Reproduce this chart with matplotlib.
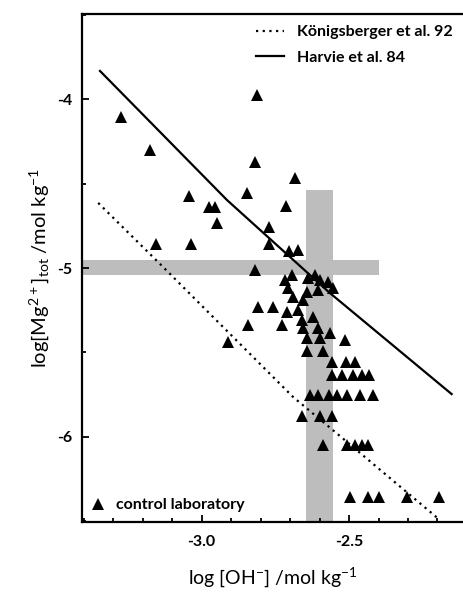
import matplotlib
matplotlib.use('Agg')
import matplotlib.pyplot as plt
from matplotlib.ticker import MultipleLocator, FormatStrFormatter
from matplotlib.lines import Line2D
from matplotlib.patches import Rectangle

##########################################################################################
# Data
# control laboratory points: log[OH-], log[Mg2+]tot
oh_ctrl = [-3.274, -3.175, -3.043, -2.813, -2.819, -2.846, -2.684, -2.975, -2.955, -2.714,
           -2.948, -2.772, -3.155, -3.036, -2.772, -2.704, -2.674, -2.819, -2.718, -2.694,
           -2.707, -2.691, -2.616, -2.599, -2.572, -2.640, -2.643, -2.606, -2.555, -2.657,
           -2.758, -2.809, -2.711, -2.674, -2.728, -2.843, -2.660, -2.657, -2.623, -2.606,
           -2.643, -2.565, -2.514, -2.599, -2.911, -2.643, -2.589, -2.558, -2.511, -2.480,
           -2.558, -2.524, -2.487, -2.457, -2.433,
           -2.633, -2.606, -2.568, -2.541, -2.507, -2.463, -2.419,
           -2.660, -2.599, -2.558,
           -2.589, -2.507, -2.480, -2.457, -2.436,
           -2.497, -2.436, -2.399, -2.304, -2.196]
mg_ctrl = [-4.107, -4.302, -4.574, -3.976, -4.373, -4.556, -4.467, -4.639, -4.639, -4.633,
           -4.734, -4.757, -4.858, -4.858, -4.858, -4.899, -4.893, -5.012, -5.071, -5.041,
           -5.118, -5.172, -5.041, -5.071, -5.083, -5.059, -5.142, -5.130, -5.118, -5.189,
           -5.231, -5.231, -5.260, -5.249, -5.337, -5.337, -5.308, -5.355, -5.290, -5.355,
           -5.414, -5.385, -5.426, -5.414, -5.438, -5.491, -5.491, -5.556, -5.556, -5.556,
           -5.633, -5.633, -5.633, -5.633, -5.633,
           -5.751, -5.751, -5.751, -5.751, -5.751, -5.751, -5.751,
           -5.876, -5.876, -5.876,
           -6.047, -6.047, -6.047, -6.047, -6.047,
           -6.355, -6.355, -6.355, -6.355, -6.355]

# model curves
oh_harvie = [-3.345, -2.914, -2.565, -2.152]
mg_harvie = [-3.834, -4.598, -5.148, -5.746]
oh_koenig = [-3.351, -3.131, -2.690, -2.555, -2.192]
mg_koenig = [-4.615, -4.994, -5.763, -5.959, -6.491]

# shaded ranges
band_h_oh = [-3.41, -2.40]
band_h_mg = [-5.04, -4.95]
band_v_oh = [-2.647, -2.555]
band_v_mg = [-6.50, -4.54]

##########################################################################################
plt.rcParams['font.family'] = ['Lato', 'DejaVu Sans']
plt.rcParams['font.weight'] = 'bold'
plt.rcParams['mathtext.default'] = 'regular'
plt.rcParams['axes.unicode_minus'] = False

fig = plt.figure(figsize=(4.64, 5.92), dpi=100)
ax = fig.add_axes([82/464, 1-522/592, 1-82/464, (522-14)/592])

ax.set_xlim(-3.406, -2.11)
ax.set_ylim(-6.503, -3.497)

# shaded bands
ax.add_patch(Rectangle((band_h_oh[0], band_h_mg[0]), band_h_oh[1]-band_h_oh[0], band_h_mg[1]-band_h_mg[0],
                       facecolor='#bdbdbd', edgecolor='none', lw=0, zorder=1))
ax.add_patch(Rectangle((band_v_oh[0], band_v_mg[0]), band_v_oh[1]-band_v_oh[0], band_v_mg[1]-band_v_mg[0],
                       facecolor='#bdbdbd', edgecolor='none', lw=0, zorder=1))

ax.plot(oh_koenig, mg_koenig, color='k', lw=1.6, ls=(0, (1, 2)), zorder=2)
ax.plot(oh_harvie, mg_harvie, 'k-', lw=1.6, zorder=2)
ax.plot(oh_ctrl, mg_ctrl, 'k^', ms=8, mew=0, zorder=3)

# ticks
ax.xaxis.set_major_locator(MultipleLocator(0.5))
ax.xaxis.set_minor_locator(MultipleLocator(0.1))
ax.xaxis.set_major_formatter(FormatStrFormatter('%.1f'))
ax.yaxis.set_major_locator(MultipleLocator(1))
ax.yaxis.set_minor_locator(MultipleLocator(0.5))
ax.yaxis.set_major_formatter(FormatStrFormatter('%d'))
ax.tick_params(which='both', direction='in', labelsize=11.5, width=1.3)
ax.tick_params(which='major', length=5)
ax.tick_params(axis='x', which='major', pad=9)
ax.tick_params(axis='y', which='major', pad=7)
ax.tick_params(which='minor', length=3)
for s in ['left', 'bottom', 'top']:
    ax.spines[s].set_linewidth(1.6)
ax.spines['right'].set_visible(False)

ax.set_xlabel('log [OH$^{-}$] /mol kg$^{-1}$', fontsize=14, labelpad=12)
ax.set_ylabel('log[Mg$^{2+}$]$_{tot}$ /mol kg$^{-1}$', fontsize=14.5, labelpad=4)

# legends
h1 = Line2D([], [], color='k', lw=1.6, ls=(0, (1, 2)))
h2 = Line2D([], [], color='k', lw=1.6)
leg1 = ax.legend([h1, h2], ['Königsberger et al. 92', 'Harvie et al. 84'], loc='upper right',
                 frameon=False, fontsize=11.5, handlelength=1.8, borderaxespad=0.4,
                 labelspacing=0.7, handletextpad=0.8, borderpad=0.3)
ax.add_artist(leg1)
h3 = Line2D([], [], color='k', marker='^', ls='none', ms=8, mew=0)
ax.legend([h3], ['control laboratory'], loc='lower left', frameon=False, fontsize=11.5,
          handlelength=0.8, handletextpad=0.7, borderaxespad=0.2)

fig.savefig('out.png', dpi=100)
plt.close(fig)
